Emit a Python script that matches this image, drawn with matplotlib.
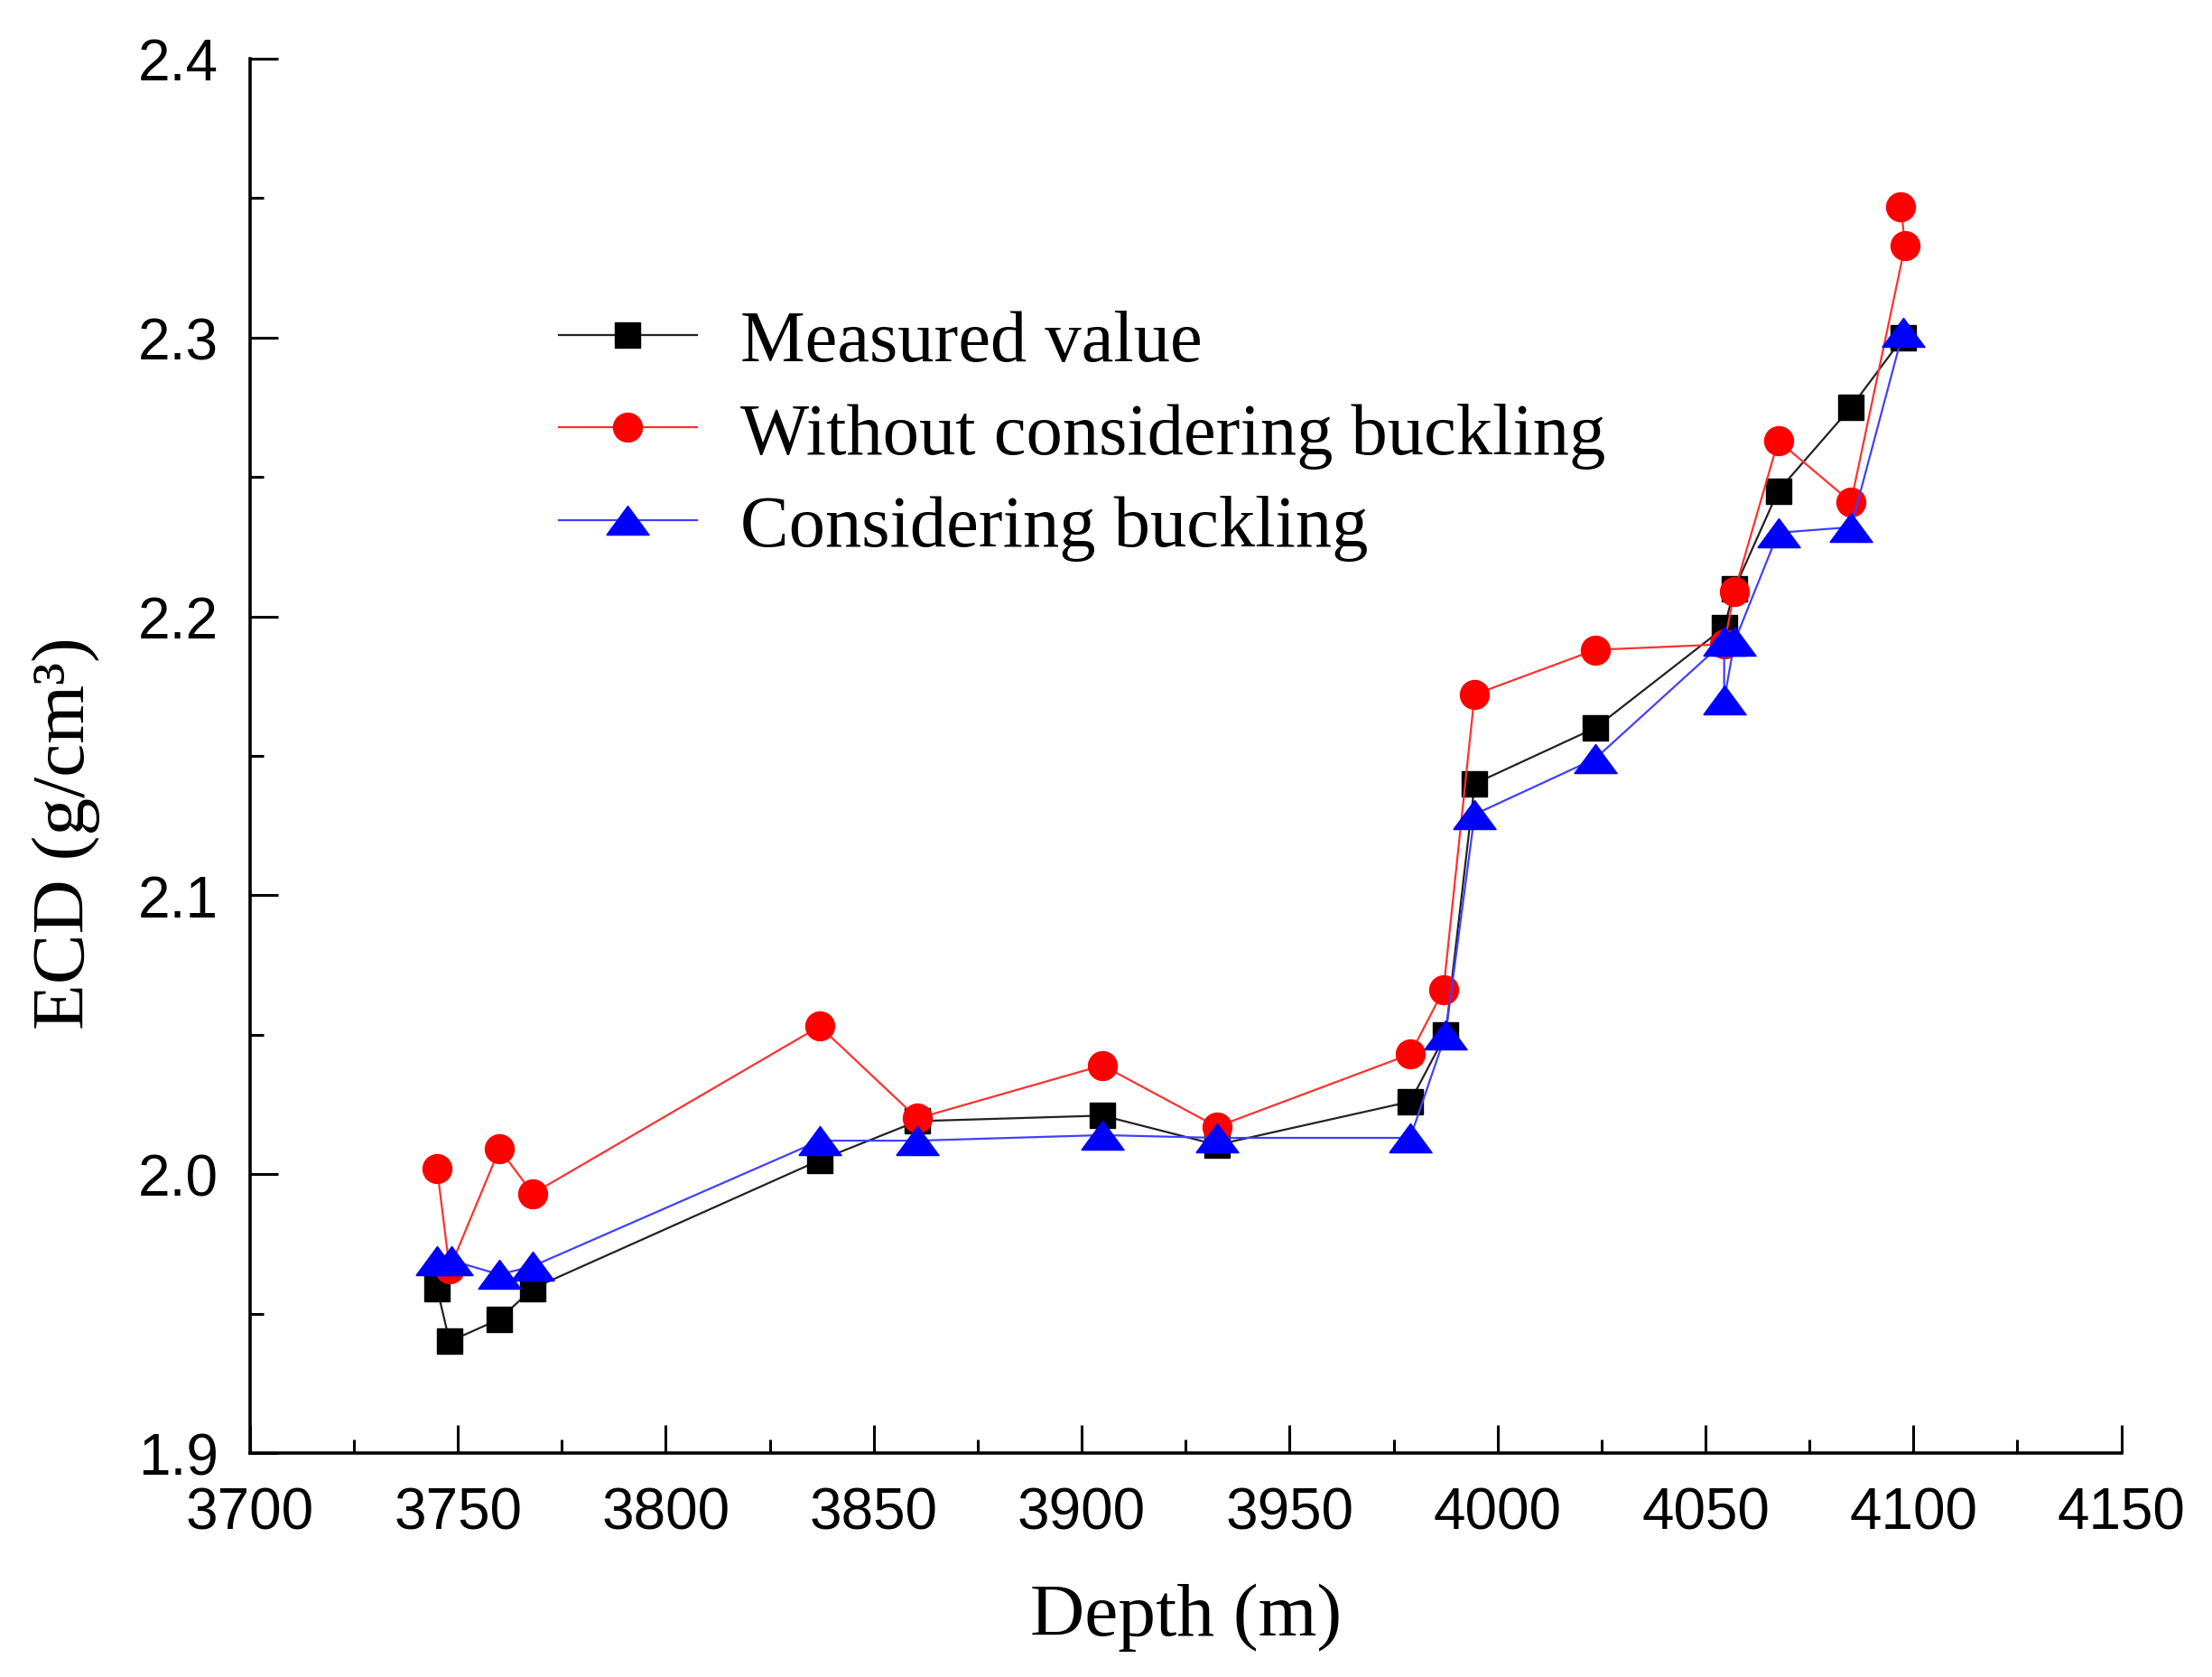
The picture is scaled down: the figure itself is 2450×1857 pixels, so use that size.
import numpy as np
import matplotlib
matplotlib.use('Agg')
import matplotlib.pyplot as plt
from matplotlib.ticker import MultipleLocator

## Data
depth_meas = [3745, 3748, 3760, 3768, 3837, 3860.5, 3905, 3932.5, 3979, 3987.5,
              3994.5, 4023.5, 4054.5, 4057, 4067.5, 4085, 4097.5]
ecd_meas = [1.959, 1.940, 1.948, 1.959, 2.005, 2.019, 2.021, 2.0105, 2.026, 2.050,
            2.140, 2.160, 2.196, 2.210, 2.245, 2.275, 2.300]

depth_nobuck = [3745, 3748, 3760, 3768, 3837, 3860.5, 3905, 3932.5, 3979, 3987,
                3994.5, 4023.5, 4054.5, 4057, 4067.5, 4085, 4098, 4097]
ecd_nobuck = [2.002, 1.966, 2.009, 1.993, 2.053, 2.020, 2.039, 2.017, 2.043, 2.066,
              2.172, 2.188, 2.190, 2.209, 2.263, 2.241, 2.333, 2.347]

depth_buck = [3745, 3748.5, 3760, 3768, 3837, 3860.5, 3905, 3932.5, 3979, 3987.5,
              3994.5, 4023.5, 4054.5, 4054.5, 4057, 4067.5, 4085, 4097.5]
ecd_buck = [1.969, 1.969, 1.964, 1.967, 2.012, 2.012, 2.014, 2.013, 2.013, 2.050,
            2.129, 2.149, 2.191, 2.170, 2.191, 2.230, 2.232, 2.302]

labels = ['Measured value', 'Without considering buckling', 'Considering buckling']

serif = 'Liberation Serif'
sans = 'Liberation Sans'

## wide flat triangle like the Origin one
tri = [(-1, -0.68), (1, -0.68), (0, 0.68), (-1, -0.68)]

fig = plt.figure(figsize=(24.5, 18.58), dpi=100)
ax = fig.add_axes([0.113, 0.1335, 0.846, 0.831])

ax.plot(depth_meas, ecd_meas, color='#222222', lw=1.6, marker='s', ms=20,
        mfc='black', mec='black', label=labels[0], zorder=3)
ax.plot(depth_nobuck, ecd_nobuck, color='#ff3030', lw=1.6, marker='o', ms=23,
        mfc='red', mec='red', label=labels[1], zorder=4)
ax.plot(depth_buck, ecd_buck, color='#4040ff', lw=1.6, marker=tri, ms=34,
        mfc='blue', mec='blue', label=labels[2], zorder=5)

ax.set_xlim(3700, 4150)
ax.set_ylim(1.9, 2.4)
ax.xaxis.set_major_locator(MultipleLocator(50))
ax.xaxis.set_minor_locator(MultipleLocator(25))
ax.yaxis.set_major_locator(MultipleLocator(0.1))
ax.yaxis.set_minor_locator(MultipleLocator(0.05))
ax.yaxis.set_major_formatter(matplotlib.ticker.FormatStrFormatter('%.1f'))

for s in ['top', 'right']:
    ax.spines[s].set_visible(False)
for s in ['left', 'bottom']:
    ax.spines[s].set_linewidth(2.6)

ax.tick_params(which='major', direction='in', length=22, width=2.2, labelsize=46)
ax.tick_params(which='minor', direction='in', length=11, width=2.2)
ax.tick_params(axis='x', which='major', pad=26)
ax.tick_params(axis='y', which='major', pad=25)
for t in ax.get_xticklabels() + ax.get_yticklabels():
    t.set_fontfamily(sans)

ax.set_xlabel('Depth (m)', fontfamily=serif, fontsize=60, labelpad=34)
ax.set_ylabel('ECD (g/cm³)', fontfamily=serif, fontsize=60)
ax.yaxis.set_label_coords(-0.08, 0.445)

leg = ax.legend(loc='upper left', bbox_to_anchor=(0.165, 0.82), frameon=False,
                prop={'family': serif, 'size': 58}, handlelength=1.9,
                handletextpad=0.6, labelspacing=0.36, borderpad=0, borderaxespad=0)

fig.savefig('out.png', dpi=100)
